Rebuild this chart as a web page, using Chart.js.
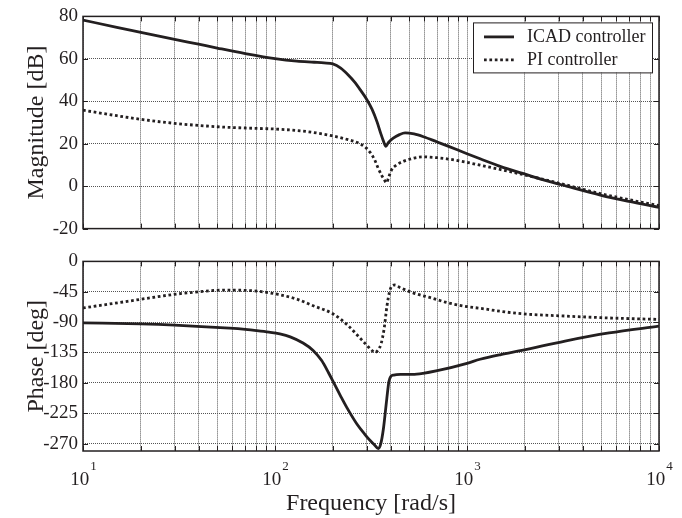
<!DOCTYPE html>
<html>
<head>
<meta charset="utf-8">
<script src="https://cdn.jsdelivr.net/npm/chart.js@4"></script>
<style>
  html, body { margin: 0; padding: 0; background: #fff; }
  #wrap { position: relative; width: 682px; height: 518px; }
  #mag { position: absolute; left: 0; top: 0; }
  #phase { position: absolute; left: 0; top: 245px; }
</style>
</head>
<body>
<div id="wrap">
  <canvas id="mag" width="682" height="245"></canvas>
  <canvas id="phase" width="682" height="273"></canvas>
</div>
<script>
// values
const seriesNames = ['ICAD controller', 'PI controller'];

const icadMagFreq = [10, 15, 20, 30, 40, 50, 70, 100, 130, 160, 180, 200, 220, 240, 260, 280, 300, 320, 340, 355, 368, 378, 390, 413, 445, 476, 530, 593, 700, 784, 1000, 1170, 1500, 1950, 2500, 3300, 5000, 7000, 10000];
const icadMagDb = [78.3, 74.8, 72.5, 69.2, 66.9, 65.1, 62.5, 60.1, 58.9, 58.4, 58.1, 57.6, 55.6, 52.5, 49.0, 45.0, 41.0, 36.3, 30.3, 25.0, 21.0, 18.8, 20.6, 22.6, 24.3, 25.1, 24.6, 23.3, 20.8, 19.1, 15.3, 12.9, 9.2, 6.0, 3.0, 0.0, -4.3, -7.2, -10.0];

const piMagFreq = [10, 15, 20, 30, 50, 70, 106, 150, 197, 240, 277, 300, 313, 330, 345, 360, 372, 380, 392, 405, 430, 466, 530, 593, 700, 784, 1000, 1170, 1500, 1950, 3050, 5000, 7000, 10000];
const piMagDb = [35.8, 33.2, 31.5, 29.6, 28.0, 27.4, 26.8, 25.6, 23.8, 21.9, 20.0, 17.8, 15.9, 12.5, 8.4, 5.0, 2.8, 1.6, 4.5, 7.7, 10.0, 11.7, 13.2, 13.8, 13.4, 12.9, 11.2, 9.9, 7.8, 5.5, 1.3, -3.6, -6.4, -9.2];

const icadPhaseFreq = [10, 20, 30, 58, 70, 80, 93, 106, 120, 140, 158, 175, 190, 204, 220, 236, 267, 295, 313, 330, 345, 355, 367, 382, 392, 400, 415, 450, 520, 590, 700, 1000, 1170, 1500, 1930, 3240, 5500, 10000];
const icadPhaseDeg = [-91, -92.5, -94.3, -99, -100.8, -102.5, -104.8, -107.5, -111.8, -121, -132, -147, -165, -182, -200, -216, -241, -257, -265.5, -272, -277.5, -271, -248, -204, -178, -171, -168.5, -167.5, -167.5, -166, -162, -151, -145, -138, -132, -118, -106, -96];

const piPhaseFreq = [10, 17.6, 29.6, 40, 55, 80, 104, 130, 158, 200, 240, 267, 300, 320, 332, 345, 357, 370, 383, 395, 405, 421, 450, 524, 650, 787, 1000, 1170, 1500, 1930, 3240, 5500, 10000];
const piPhaseDeg = [-69, -58.6, -49, -45, -42.5, -44, -49, -56, -65.7, -77.6, -95, -108.6, -124, -132, -135, -131, -122, -100, -66, -45, -37, -35, -39, -46.7, -54, -61, -67, -69.5, -74, -77.6, -81, -83.8, -86];

const magTicks = [80, 60, 40, 20, 0, -20];
const phaseTicks = [0, -45, -90, -135, -180, -225, -270];
const decadePowers = [1, 2, 3, 4];

const ink = '#231f20';
const serif = 'Liberation Serif';

// grid positions 10,20,...,90,100,...,10000
const xGrid = [];
for (let p = 1; p < 4; p++) {
    for (let m = 1; m < 10; m++) xGrid.push(m * Math.pow(10, p));
}
xGrid.push(10000);

function pts(xs, ys) {
    return xs.map((x, i) => ({x: x, y: ys[i]}));
}

function lineSet(label, data, dashed) {
    return {
        label: label,
        data: data,
        borderColor: ink,
        borderWidth: 2.8,
        borderDash: dashed ? [2.7, 2.7] : [],
        borderCapStyle: 'butt',
        pointRadius: 0,
        fill: false,
        cubicInterpolationMode: 'monotone'
    };
}

// frame + MATLAB style inner tick marks
const frame = {
    id: 'frame',
    afterDatasetsDraw(chart) {
        const {ctx, chartArea: a, scales} = chart;
        ctx.save();
        ctx.strokeStyle = ink;
        ctx.lineWidth = 1;
        ctx.setLineDash([]);
        ctx.beginPath();
        scales.x.ticks.forEach(t => {
            const px = Math.round(scales.x.getPixelForValue(t.value)) + 0.5;
            ctx.moveTo(px, a.top); ctx.lineTo(px, a.top + 5);
            ctx.moveTo(px, a.bottom); ctx.lineTo(px, a.bottom - 5);
        });
        scales.y.ticks.forEach(t => {
            const py = Math.round(scales.y.getPixelForValue(t.value)) + 0.5;
            ctx.moveTo(a.left, py); ctx.lineTo(a.left + 5, py);
            ctx.moveTo(a.right, py); ctx.lineTo(a.right - 5, py);
        });
        ctx.stroke();
        ctx.lineWidth = 1.5;
        ctx.strokeRect(a.left, a.top, a.right - a.left, a.bottom - a.top);
        ctx.restore();
    }
};

// boxed legend in the upper right corner
const boxLegend = {
    id: 'boxLegend',
    afterDraw(chart) {
        const {ctx, chartArea: a} = chart;
        const x0 = a.right - 186, y0 = a.top + 6, w = 179, h = 50;
        ctx.save();
        ctx.fillStyle = '#fff';
        ctx.fillRect(x0, y0, w, h);
        ctx.strokeStyle = ink;
        ctx.lineWidth = 1;
        ctx.strokeRect(x0 + 0.5, y0 + 0.5, w, h);
        chart.data.datasets.forEach((ds, i) => {
            const y = y0 + 14.5 + i * 23;
            ctx.beginPath();
            ctx.lineWidth = ds.borderWidth;
            ctx.setLineDash(ds.borderDash);
            ctx.moveTo(x0 + 11, y);
            ctx.lineTo(x0 + 41, y);
            ctx.stroke();
            ctx.setLineDash([]);
            ctx.fillStyle = ink;
            ctx.font = '18px "' + serif + '"';
            ctx.textBaseline = 'middle';
            ctx.textAlign = 'left';
            ctx.fillText(ds.label, x0 + 54, y);
        });
        ctx.restore();
    }
};

// 10^n labels under the bottom plot
const decadeLabels = {
    id: 'decadeLabels',
    afterDraw(chart) {
        const {ctx, chartArea: a, scales} = chart;
        ctx.save();
        ctx.fillStyle = ink;
        ctx.textBaseline = 'alphabetic';
        ctx.textAlign = 'left';
        decadePowers.forEach(p => {
            const px = scales.x.getPixelForValue(Math.pow(10, p));
            ctx.font = '19px "' + serif + '"';
            const wBase = ctx.measureText('10').width;
            ctx.font = '13px "' + serif + '"';
            const wExp = ctx.measureText(String(p)).width;
            const left = px - (wBase + wExp) / 2;
            ctx.font = '19px "' + serif + '"';
            ctx.fillText('10', left, a.bottom + 33.5);
            ctx.font = '13px "' + serif + '"';
            ctx.fillText(String(p), left + wBase + 1, a.bottom + 19);
        });
        ctx.restore();
    }
};

function xAxis(height, title) {
    return {
        type: 'logarithmic',
        min: 10,
        max: 10000,
        afterBuildTicks: s => { s.ticks = xGrid.map(v => ({value: v})); },
        afterFit: s => { s.height = height; },
        ticks: {display: false},
        grid: {color: '#555', lineWidth: 1, drawTicks: false},
        border: {display: false, dash: [1, 1]},
        title: {
            display: !!title,
            text: title || '',
            font: {family: serif, size: 24},
            color: ink,
            padding: 0
        }
    };
}

function yAxis(min, max, ticks, title) {
    return {
        min: min,
        max: max,
        afterBuildTicks: s => { s.ticks = ticks.map(v => ({value: v})); },
        afterFit: s => { s.width = 61; },
        grid: {color: '#555', lineWidth: 1, drawTicks: false},
        border: {display: false, dash: [1, 1]},
        ticks: {font: {family: serif, size: 19}, color: ink, padding: 5, autoSkip: false},
        title: {
            display: true,
            text: title,
            font: {family: serif, size: 24},
            color: ink,
            padding: 0
        }
    };
}

const common = {
    responsive: false,
    animation: false,
    devicePixelRatio: 1,
    plugins: {legend: {display: false}, tooltip: {enabled: false}}
};

new Chart(document.getElementById('mag'), {
    type: 'line',
    data: {
        datasets: [
            lineSet(seriesNames[0], pts(icadMagFreq, icadMagDb), false),
            lineSet(seriesNames[1], pts(piMagFreq, piMagDb), true)
        ]
    },
    options: Object.assign({}, common, {
        layout: {padding: {left: 22, right: 23, top: 13, bottom: 8}},
        scales: {
            x: xAxis(0, null),
            y: yAxis(-20, 80, magTicks, 'Magnitude [dB]')
        }
    }),
    plugins: [frame, boxLegend]
});

new Chart(document.getElementById('phase'), {
    type: 'line',
    data: {
        datasets: [
            lineSet(seriesNames[0], pts(icadPhaseFreq, icadPhaseDeg), false),
            lineSet(seriesNames[1], pts(piPhaseFreq, piPhaseDeg), true)
        ]
    },
    options: Object.assign({}, common, {
        layout: {padding: {left: 22, right: 23, top: 9, bottom: 0}},
        scales: {
            x: xAxis(67, 'Frequency [rad/s]'),
            y: yAxis(-281, 0, phaseTicks, 'Phase [deg]')
        }
    }),
    plugins: [frame, decadeLabels]
});
</script>
</body>
</html>
